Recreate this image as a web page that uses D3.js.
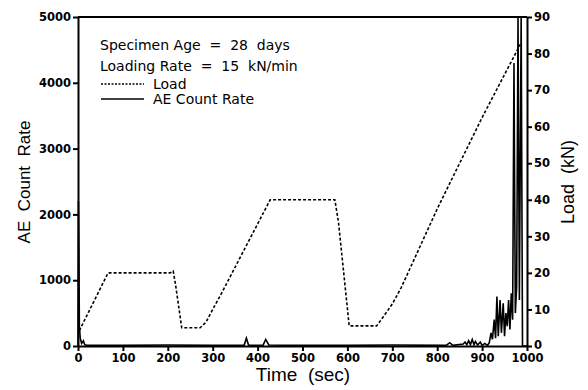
<!DOCTYPE html>
<html>
<head>
<style>
  body { margin: 0; background: #fff; }
  svg { font-family: "Liberation Sans", Arial, sans-serif; }
  .axis path, .axis line { stroke: #000; stroke-width: 2px; fill: none; }
  .axis text { font-family: "DejaVu Sans", sans-serif; font-size: 11.5px; font-weight: bold; fill: #000; }
  .lab { font-size: 17px; fill: #000; }
  .note { font-family: "DejaVu Sans", sans-serif; font-size: 14px; fill: #000; }
</style>
<script src="https://cdn.jsdelivr.net/npm/d3@7"></script>
</head>
<body>
<script>
// load curve (time in sec, load in kN)
var loadTime = [3, 67, 205, 212, 217, 231, 272, 285, 300, 320, 428, 572, 580, 604, 665, 680, 700, 720, 800, 900, 985];
var loadKN   = [4.2, 20, 20, 20.5, 17, 5, 5, 6.5, 10, 14.5, 40, 40, 34, 5.5, 5.5, 8, 11.5, 16, 37.5, 62.5, 82.5];

// AE count rate spikes
var aeTime  = [0, 1, 2, 3, 5, 8, 12, 15, 20, 40, 100, 200, 300, 370, 375, 380, 412, 418, 425, 500, 600, 700, 820, 828, 835,
               858, 862, 866, 870, 874, 878, 882, 885, 890, 896, 900, 906, 912, 916, 920, 923, 927, 930, 933, 936, 940,
               943, 947, 950, 953, 956, 959, 962, 965, 968, 971, 974, 977, 980, 983, 987, 990, 1000];
var aeCount = [0, 2200, 1500, 300, 120, 40, 80, 20, 10, 10, 10, 15, 10, 10, 120, 10, 10, 100, 15, 10, 10, 15, 10, 50, 10,
               30, 60, 20, 80, 20, 100, 20, 70, 15, 60, 10, 40, 10, 50, 200, 100, 400, 120, 750, 150, 700,
               200, 650, 150, 500, 300, 700, 250, 800, 400, 4300, 500, 900, 5000, 700, 5000, 0, 0];

var xTicks = [0, 100, 200, 300, 400, 500, 600, 700, 800, 900, 1000];
var yTicks = [0, 1000, 2000, 3000, 4000, 5000];
var y2Ticks = [0, 10, 20, 30, 40, 50, 60, 70, 80, 90];

var W = 588, H = 390;
var m = {left: 78, right: 527, top: 17, bottom: 346};

var svg = d3.select("body").append("svg")
    .attr("width", W)
    .attr("height", H);

var x = d3.scaleLinear().domain([0, 1000]).range([m.left, m.right]);
var y = d3.scaleLinear().domain([0, 5000]).range([m.bottom, m.top]);
var y2 = d3.scaleLinear().domain([0, 90]).range([m.bottom, m.top]);

// top frame line
svg.append("line")
    .attr("x1", m.left).attr("x2", m.right)
    .attr("y1", m.top).attr("y2", m.top)
    .attr("stroke", "#000").attr("stroke-width", 2);

svg.append("g")
    .attr("class", "axis")
    .attr("transform", "translate(0," + m.bottom + ")")
    .call(d3.axisBottom(x).tickValues(xTicks).tickFormat(d3.format("d"))
        .tickSize(5).tickSizeOuter(0).tickPadding(3));

svg.append("g")
    .attr("class", "axis")
    .attr("transform", "translate(" + m.left + ",0)")
    .call(d3.axisLeft(y).tickValues(yTicks).tickFormat(d3.format("d"))
        .tickSize(5).tickSizeOuter(0).tickPadding(2));

var y2Axis = svg.append("g")
    .attr("class", "axis")
    .attr("transform", "translate(" + m.right + ",0)")
    .call(d3.axisRight(y2).tickValues(y2Ticks).tickFormat(d3.format("d"))
        .tickSize(5).tickSizeOuter(0).tickPadding(2));

// lift the right "0" a touch so it clears the 1000 label
y2Axis.selectAll(".tick text").filter(function(d) { return d === 0; })
    .attr("dy", "0.2em");

// AE count rate (solid)
var aeLine = d3.line()
    .x(function(d, i) { return x(aeTime[i]); })
    .y(function(d) { return y(d); });

svg.append("path")
    .datum(aeCount)
    .attr("d", aeLine)
    .attr("fill", "none")
    .attr("stroke", "#000")
    .attr("stroke-width", 1.6);

// load (dashed)
var loadLine = d3.line()
    .x(function(d, i) { return x(loadTime[i]); })
    .y(function(d) { return y2(d); });

svg.append("path")
    .datum(loadKN)
    .attr("d", loadLine)
    .attr("fill", "none")
    .attr("stroke", "#000")
    .attr("stroke-width", 1.6)
    .attr("stroke-dasharray", "3,2");

// notes + legend
svg.append("text").attr("class", "note").attr("x", 100).attr("y", 50)
    .attr("xml:space", "preserve").text("Specimen Age  =  28  days");
svg.append("text").attr("class", "note").attr("x", 100).attr("y", 71)
    .attr("xml:space", "preserve").text("Loading Rate  =  15  kN/min");

svg.append("line").attr("x1", 101).attr("x2", 144).attr("y1", 84).attr("y2", 84)
    .attr("stroke", "#000").attr("stroke-width", 1.4).attr("stroke-dasharray", "2,1.5");
svg.append("text").attr("class", "note").attr("x", 153).attr("y", 89).text("Load");
svg.append("line").attr("x1", 101).attr("x2", 144).attr("y1", 99).attr("y2", 99)
    .attr("stroke", "#000").attr("stroke-width", 1.4);
svg.append("text").attr("class", "note").attr("x", 153).attr("y", 104).text("AE Count Rate");

// axis titles
svg.append("text").attr("class", "lab")
    .attr("text-anchor", "middle")
    .attr("transform", "translate(30,182) rotate(-90)")
    .attr("xml:space", "preserve")
    .text("AE  Count  Rate");

svg.append("text").attr("class", "lab")
    .attr("text-anchor", "middle")
    .attr("transform", "translate(574,182) rotate(-90)")
    .attr("xml:space", "preserve")
    .style("font-size", "18px")
    .text("Load  (kN)");

svg.append("text").attr("class", "lab")
    .attr("text-anchor", "middle")
    .attr("x", 303).attr("y", 381)
    .attr("xml:space", "preserve")
    .style("font-size", "19px")
    .text("Time  (sec)");
</script>
</body>
</html>
